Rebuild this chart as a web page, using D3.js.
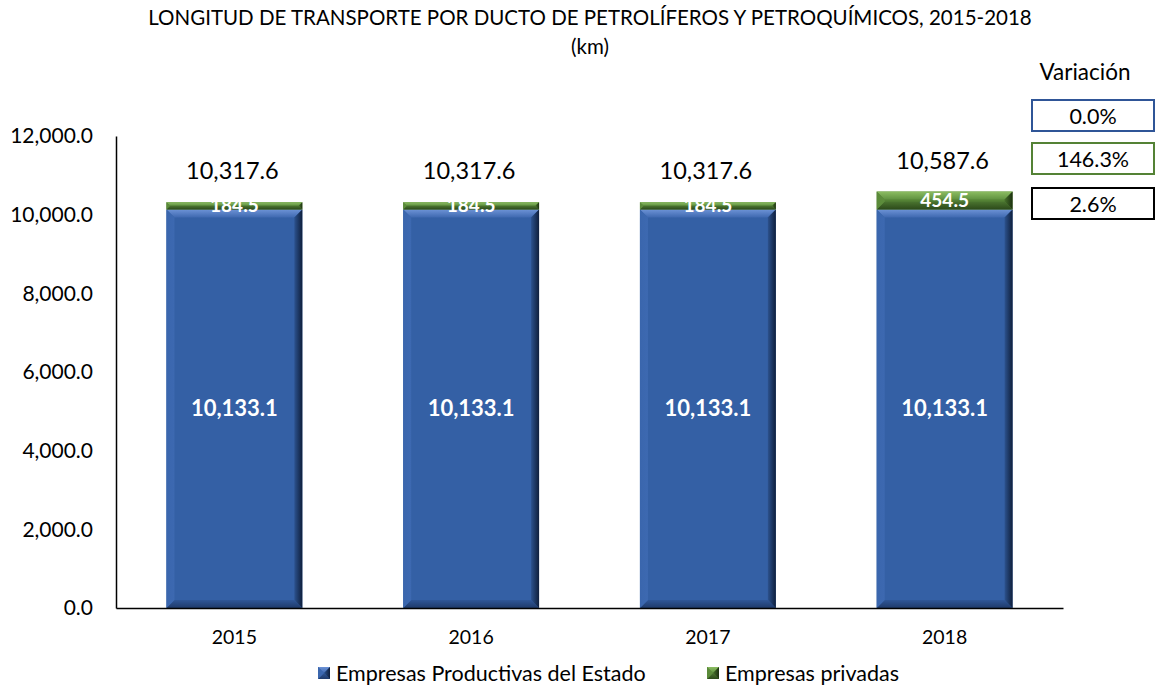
<!DOCTYPE html>
<html>
<head>
<meta charset="utf-8">
<script src="https://cdn.jsdelivr.net/npm/d3@7"></script>
<style>
  html, body { margin: 0; padding: 0; background: #fff; }
  svg { display: block; font-family: Lato, "Open Sans", sans-serif; }
</style>
</head>
<body>
<svg id="chart" width="1156" height="686"></svg>
<script>
// ---- data ----
const years = ["2015", "2016", "2017", "2018"];
const estado = [10133.1, 10133.1, 10133.1, 10133.1];
const privadas = [184.5, 184.5, 184.5, 454.5];
const yTicks = [0, 2000, 4000, 6000, 8000, 10000, 12000];
const variacion = ["0.0%", "146.3%", "2.6%"];
const seriesNames = ["Empresas Productivas del Estado", "Empresas privadas"];

const svg = d3.select("#chart");
const margin = { left: 116, right: 93, top: 136, bottom: 78 };
const W = 1156, H = 686;

const x = d3.scaleBand().domain(years).range([margin.left, W - margin.right]).paddingInner(0.426).paddingOuter(0.213);
const y = d3.scaleLinear().domain([0, 12000]).range([H - margin.bottom, margin.top]);

// gradients
const defs = svg.append("defs");
function lin(id, x1, y1, x2, y2, stops) {
  const g = defs.append("linearGradient").attr("id", id)
    .attr("x1", x1).attr("y1", y1).attr("x2", x2).attr("y2", y2);
  stops.forEach(s => g.append("stop").attr("offset", s[0]).attr("stop-color", s[1]));
}
const pal = {
  blue: { base: "#3460a5", top: ["#6d93d6", "#3f69b0"], bottom: ["#2f5697", "#1f3a6a"], left: ["#3a66ad", "#3d69b1"], right: ["#2c528e", "#0f1f3c"] },
  green: { base: "#548235", top: ["#8cbd62", "#5f9140"], bottom: ["#4b7530", "#2c4a1a"], left: ["#5a8a39", "#5d8d3c"], right: ["#46702b", "#1c3010"] }
};
Object.entries(pal).forEach(([k, p]) => {
  lin(k + "-top", 0, 0, 0, 1, [[0, p.top[0]], [1, p.top[1]]]);
  lin(k + "-bottom", 0, 0, 0, 1, [[0, p.bottom[0]], [1, p.bottom[1]]]);
  lin(k + "-left", 0, 0, 1, 0, [[0, p.left[0]], [1, p.left[1]]]);
  lin(k + "-right", 0, 0, 1, 0, [[0, p.right[0]], [1, p.right[1]]]);
});

function bevelBar(g, x0, x1, y0, y1, key) {
  const b = Math.min(8, (y1 - y0) / 2, (x1 - x0) / 2);
  g.append("rect").attr("x", x0).attr("y", y0).attr("width", x1 - x0).attr("height", y1 - y0).attr("fill", pal[key].base);
  const polys = [
    ["top", [[x0, y0], [x1, y0], [x1 - b, y0 + b], [x0 + b, y0 + b]]],
    ["bottom", [[x0, y1], [x1, y1], [x1 - b, y1 - b], [x0 + b, y1 - b]]],
    ["left", [[x0, y0], [x0 + b, y0 + b], [x0 + b, y1 - b], [x0, y1]]],
    ["right", [[x1, y0], [x1 - b, y0 + b], [x1 - b, y1 - b], [x1, y1]]]
  ];
  polys.forEach(([side, pts]) => {
    g.append("polygon").attr("points", pts.map(p => p.join(",")).join(" ")).attr("fill", `url(#${key}-${side})`);
  });
}

// title
svg.append("text").attr("x", 590).attr("y", 25).attr("text-anchor", "middle").attr("font-size", 20.5).attr("fill", "#000")
  .text("LONGITUD DE TRANSPORTE POR DUCTO DE PETROLÍFEROS Y PETROQUÍMICOS, 2015-2018");
svg.append("text").attr("x", 590).attr("y", 54).attr("text-anchor", "middle").attr("font-size", 20.5).attr("fill", "#000").text("(km)");

// y axis
const yAxis = svg.append("g").attr("transform", `translate(${margin.left},0)`)
  .call(d3.axisLeft(y).tickValues(yTicks).tickFormat(d3.format(",.1f")).tickSize(0).tickPadding(23));
yAxis.select(".domain").attr("stroke", "#000").attr("stroke-width", 1.5);
yAxis.selectAll("text").attr("font-size", 21).attr("fill", "#000").attr("font-family", "Lato, sans-serif");

// bars
const bars = svg.append("g");
years.forEach((yr, i) => {
  const x0 = x(yr), x1 = x(yr) + x.bandwidth();
  const g = bars.append("g");
  bevelBar(g, x0, x1, y(estado[i]), y(0), "blue");
  bevelBar(g, x0, x1, y(estado[i] + privadas[i]), y(estado[i]), "green");
});

// x axis
const xAxis = svg.append("g").attr("transform", `translate(0,${y(0)})`)
  .call(d3.axisBottom(x).tickSize(0).tickPadding(22));
xAxis.select(".domain").attr("stroke", "#000").attr("stroke-width", 1.5);
xAxis.selectAll("text").attr("font-size", 19.5).attr("fill", "#000").attr("font-family", "Lato, sans-serif");

// labels
const fmt = d3.format(",.1f");
years.forEach((yr, i) => {
  const cx = x(yr) + x.bandwidth() / 2;
  const tot = estado[i] + privadas[i];
  svg.append("text").attr("x", cx).attr("y", y(estado[i] / 2)).attr("dy", "0.35em").attr("text-anchor", "middle")
    .attr("font-size", 22).attr("font-weight", "bold").attr("fill", "#fff").text(fmt(estado[i]));
  svg.append("text").attr("x", cx).attr("y", y(estado[i] + privadas[i] / 2)).attr("dy", "0.35em").attr("text-anchor", "middle")
    .attr("font-size", 19).attr("font-weight", "bold").attr("fill", "#fff").text(fmt(privadas[i]));
  svg.append("text").attr("x", cx - 2).attr("y", y(tot) - 31).attr("dy", "0.35em").attr("text-anchor", "middle")
    .attr("font-size", 23.5).attr("fill", "#000").text(fmt(tot));
});

// variation boxes
svg.append("text").attr("x", 1085).attr("y", 72).attr("dy", "0.35em").attr("text-anchor", "middle")
  .attr("font-size", 22.5).attr("fill", "#000").text("Variación");
const boxColors = ["#2f5597", "#548235", "#000000"];
const boxY = [100, 143, 188];
variacion.forEach((v, i) => {
  svg.append("rect").attr("x", 1032).attr("y", boxY[i]).attr("width", 122).attr("height", 31)
    .attr("fill", "#fff").attr("stroke", boxColors[i]).attr("stroke-width", 2);
  svg.append("text").attr("x", 1093).attr("y", boxY[i] + 16).attr("dy", "0.35em").attr("text-anchor", "middle")
    .attr("font-size", 21.5).attr("fill", "#000").text(v);
});

// legend
const legend = svg.append("g");
const legX = [318, 707];
seriesNames.forEach((n, i) => {
  const key = i === 0 ? "blue" : "green";
  const g = legend.append("g");
  bevelBar(g, legX[i], legX[i] + 12, 667, 679, key);
  legend.append("text").attr("x", legX[i] + 18).attr("y", 673).attr("dy", "0.35em")
    .attr("font-size", 21.5).attr("fill", "#000").text(n);
});
</script>
</body>
</html>
